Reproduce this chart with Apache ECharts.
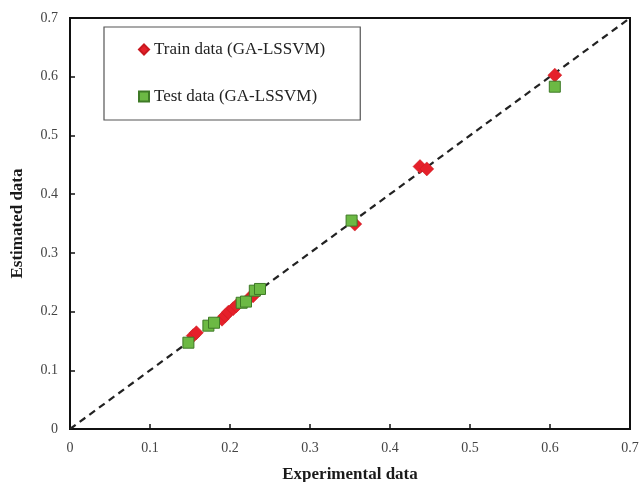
<!DOCTYPE html>
<html>
<head>
<meta charset="utf-8">
<script src="https://cdn.jsdelivr.net/npm/echarts@6/dist/echarts.min.js"></script>
<style>
  html, body { margin: 0; padding: 0; background: #fff; }
  #chart { width: 639px; height: 482px; }
</style>
</head>
<body>
<div id="chart"></div>
<script>
// Experimental vs. estimated values for the GA-LSSVM model
const trainExperimental = [0.154, 0.158, 0.190, 0.194, 0.198, 0.204, 0.208, 0.225, 0.229, 0.356, 0.4375, 0.446, 0.606];
const trainEstimated    = [0.159, 0.164, 0.187, 0.193, 0.199, 0.205, 0.210, 0.224, 0.227, 0.349, 0.447, 0.443, 0.6027];

const testExperimental = [0.148, 0.173, 0.180, 0.2146, 0.220, 0.231, 0.2375, 0.352, 0.606];
const testEstimated    = [0.147, 0.176, 0.181, 0.215, 0.217, 0.2356, 0.2385, 0.355, 0.583];

// y = x reference line
const parityLine = [[0, 0], [0.7, 0.7]];

const axisTicks = [0, 0.1, 0.2, 0.3, 0.4, 0.5, 0.6, 0.7];

const pairs = (xs, ys) => xs.map((x, i) => [x, ys[i]]);

const serif = '"Liberation Serif", "Times New Roman", serif';

const axisCommon = {
  type: 'value',
  min: axisTicks[0],
  max: axisTicks[axisTicks.length - 1],
  interval: 0.1,
  nameLocation: 'middle',
  nameTextStyle: { fontFamily: serif, fontSize: 17, fontWeight: 'bold', color: '#1a1a1a' },
  axisLine: { show: true, lineStyle: { color: '#111', width: 2 } },
  axisTick: { show: true, inside: true, length: 5, lineStyle: { color: '#111', width: 1.5 } },
  axisLabel: {
    fontFamily: serif, fontSize: 14, color: '#444', margin: 12,
    formatter: v => (Math.round(v * 10) / 10).toString()
  },
  splitLine: { show: false }
};

const chart = echarts.init(document.getElementById('chart'), null, { renderer: 'canvas' });

chart.setOption({
  animation: false,
  backgroundColor: '#fff',
  grid: {
    left: 70, right: 9, top: 18, bottom: 53,
    outerBoundsMode: 'none',
    containLabel: false,
    show: true, borderColor: '#111', borderWidth: 2, backgroundColor: 'transparent'
  },
  xAxis: Object.assign({}, axisCommon, { name: 'Experimental data', nameGap: 37 }),
  yAxis: Object.assign({}, axisCommon, { name: 'Estimated data', nameGap: 44 }),
  legend: {
    orient: 'vertical',
    left: 104,
    top: 27,
    padding: [14, 35, 15, 34],
    itemGap: 30,
    itemWidth: 10,
    itemHeight: 10,
    borderColor: '#555',
    borderWidth: 1.2,
    backgroundColor: '#fff',
    textStyle: { fontFamily: serif, fontSize: 17, color: '#222' },
    data: [
      { name: 'Train data (GA-LSSVM)', icon: 'diamond' },
      { name: 'Test data (GA-LSSVM)', icon: 'rect' }
    ]
  },
  series: [
    {
      name: 'y = x',
      type: 'line',
      data: parityLine,
      symbol: 'none',
      silent: true,
      lineStyle: { color: '#222', width: 2.2, type: [7, 5] },
      z: 1
    },
    {
      name: 'Train data (GA-LSSVM)',
      type: 'scatter',
      data: pairs(trainExperimental, trainEstimated),
      symbol: 'diamond',
      symbolSize: 14,
      itemStyle: { color: '#e5202a', borderColor: '#c8181f', borderWidth: 0.5, opacity: 1 },
      z: 3
    },
    {
      name: 'Test data (GA-LSSVM)',
      type: 'scatter',
      data: pairs(testExperimental, testEstimated),
      symbol: 'rect',
      symbolSize: 11,
      itemStyle: { color: '#6cb944', borderColor: '#3e7a26', borderWidth: 1, opacity: 1 },
      z: 4
    }
  ]
});
</script>
</body>
</html>
